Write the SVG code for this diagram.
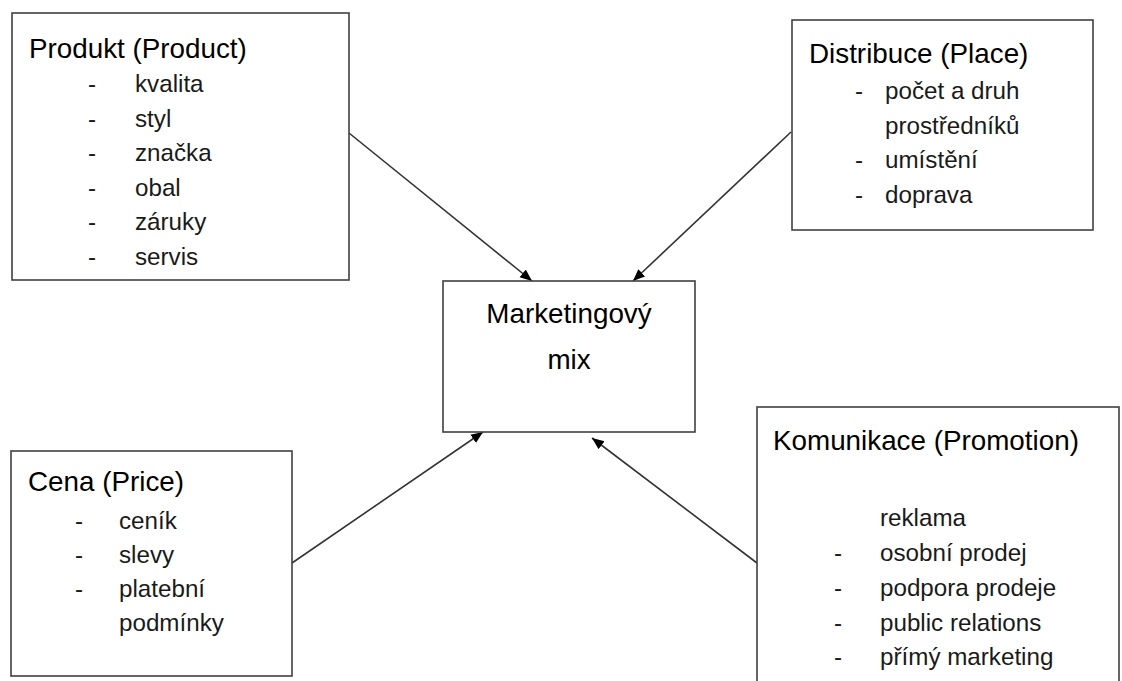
<svg xmlns="http://www.w3.org/2000/svg" width="1122" height="681" viewBox="0 0 1122 681">
<style>
.box{fill:#fff;stroke:#404040;stroke-width:1.6}
.t{font-family:"Liberation Sans",Arial,sans-serif;font-size:27.8px;fill:#000}
.i{font-family:"Liberation Sans",Arial,sans-serif;font-size:24.2px;fill:#1a1a1a}
.c{stroke:#333;stroke-width:1.6;fill:none;marker-end:url(#ah)}
</style>
<defs>
<marker id="ah" markerUnits="userSpaceOnUse" markerWidth="14" markerHeight="12" refX="12" refY="5" orient="auto">
<path d="M0,0 L12,5 L0,10 z" fill="#000"/>
</marker>
</defs>
<rect width="1122" height="681" fill="#fff"/>
<g id="connectors">
<line class="c" x1="349" y1="133" x2="532" y2="281"/>
<line class="c" x1="791" y1="132" x2="633" y2="281"/>
<line class="c" x1="292" y1="563" x2="483" y2="432"/>
<line class="c" x1="757" y1="563" x2="592" y2="438"/>
</g>
<g id="produkt">
<rect class="box" x="12" y="13" width="337" height="267"/>
<text class="t" x="29" y="58">Produkt (Product)</text>
<g class="i">
<text x="88" y="92">-</text><text x="135" y="92">kvalita</text>
<text x="88" y="126.5">-</text><text x="135" y="126.5">styl</text>
<text x="88" y="161">-</text><text x="135" y="161">značka</text>
<text x="88" y="195.5">-</text><text x="135" y="195.5">obal</text>
<text x="88" y="230">-</text><text x="135" y="230">záruky</text>
<text x="88" y="265">-</text><text x="135" y="265">servis</text>
</g>
</g>
<g id="distribuce">
<rect class="box" x="792" y="20" width="301" height="210"/>
<text class="t" x="809" y="63">Distribuce (Place)</text>
<g class="i">
<text x="855" y="99">-</text><text x="885" y="99">počet a druh</text>
<text x="885" y="133.5">prostředníků</text>
<text x="855" y="168">-</text><text x="885" y="168">umístění</text>
<text x="855" y="202.5">-</text><text x="885" y="202.5">doprava</text>
</g>
</g>
<g id="mix">
<rect class="box" x="443" y="281" width="252" height="151"/>
<text class="t" x="569" y="323" text-anchor="middle">Marketingový</text>
<text class="t" x="569" y="369" text-anchor="middle">mix</text>
</g>
<g id="cena">
<rect class="box" x="11" y="451" width="281" height="225"/>
<text class="t" x="28" y="491">Cena (Price)</text>
<g class="i">
<text x="75" y="529">-</text><text x="119" y="529">ceník</text>
<text x="75" y="563">-</text><text x="119" y="563">slevy</text>
<text x="75" y="597">-</text><text x="119" y="597">platební</text>
<text x="119" y="631">podmínky</text>
</g>
</g>
<g id="komunikace">
<rect class="box" x="757" y="407" width="362" height="300"/>
<text class="t" x="773" y="450">Komunikace (Promotion)</text>
<g class="i">
<text x="880" y="526">reklama</text>
<text x="834" y="561">-</text><text x="880" y="561">osobní prodej</text>
<text x="834" y="596">-</text><text x="880" y="596">podpora prodeje</text>
<text x="834" y="631">-</text><text x="880" y="631">public relations</text>
<text x="834" y="665">-</text><text x="880" y="665">přímý marketing</text>
</g>
</g>
</svg>
